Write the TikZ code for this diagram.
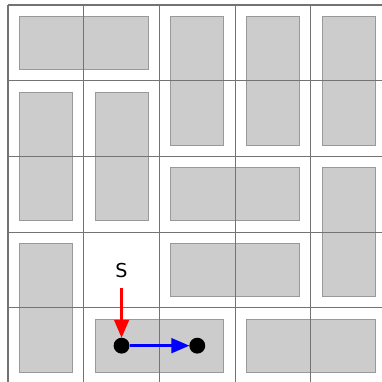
\documentclass[tikz,border=0pt]{standalone}
\usepackage{fontspec}
\setmainfont{DejaVu Sans}
\usetikzlibrary{arrows.meta}
\tikzset{
  blk/.style={fill=black!20, draw=black!40, line width=0.4pt},
  gridline/.style={draw=black!55, line width=0.4pt},
  dot/.style={circle, fill=black, inner sep=0pt, minimum size=0.21cm},
  movearrow/.style={line width=1.25pt, -{Triangle[length=2.4mm,width=1.9mm]}, shorten >=-0.3pt},
}
\begin{document}
\begin{tikzpicture}
\useasboundingbox (-0.106,0.066) rectangle (4.94,-4.98);
\clip (-0.106,0.066) rectangle (4.94,-4.98);
% obstacles
\foreach \xa/\ya/\xb/\yb in {
  0.15/0.15/1.85/0.85,
  2.15/0.15/2.85/1.85,
  3.15/0.15/3.85/1.85,
  4.15/0.15/4.85/1.85,
  0.15/1.15/0.85/2.85,
  1.15/1.15/1.85/2.85,
  2.15/2.15/3.85/2.85,
  4.15/2.15/4.85/3.85,
  2.15/3.15/3.85/3.85,
  0.15/3.15/0.85/4.85,
  1.15/4.15/2.85/4.85,
  3.15/4.15/4.85/4.85}
  {\path[blk] (\xa,-\ya) rectangle (\xb,-\yb);}
% grid
\foreach \i in {0,...,4} {
  \draw[gridline] (\i,0) -- (\i,-5.2);
  \draw[gridline] (0,-\i) -- (5.2,-\i);
}
% agent
\node[dot] (a) at (1.5,-4.5) {};
\node[dot] (b) at (2.5,-4.5) {};
\node[font=\fontsize{7.2}{8}\selectfont, inner sep=0pt] (s) at (1.5,-3.51) {S};
\coordinate (sa) at (1.5,-3.74);
\draw[movearrow, red] (sa) -- (a);
\draw[movearrow, blue] (a) -- (b);
\end{tikzpicture}
\end{document}
